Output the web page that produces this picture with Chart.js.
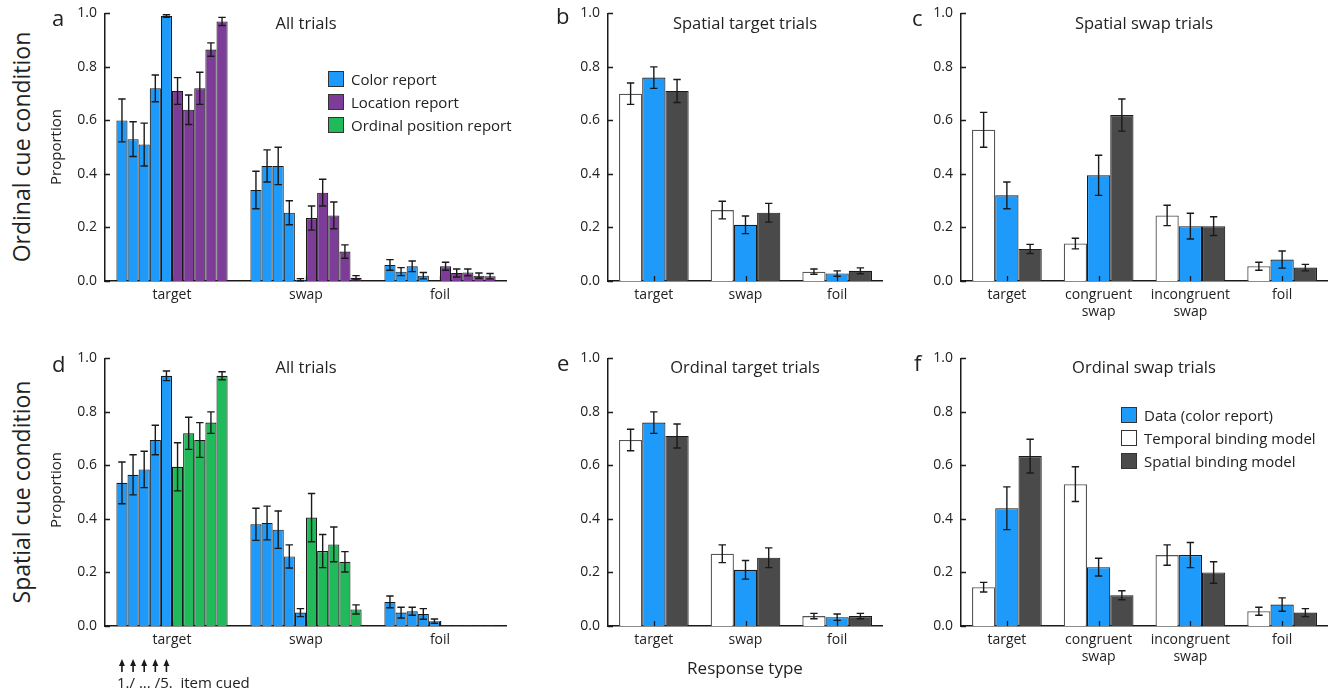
<!DOCTYPE html>
<html>
<head>
<meta charset="utf-8">
<title>Binding of features in working memory</title>
<script src="https://cdn.jsdelivr.net/npm/chart.js@4.4.1/dist/chart.umd.min.js"></script>
<style>
  body { margin: 0; background: #fff; width: 1341px; height: 696px; position: relative; overflow: hidden;
         font-family: "Open Sans", sans-serif; color: #222; }
  canvas { position: absolute; }
  .txt { position: absolute; white-space: nowrap; line-height: 1; }
  .letter { font-size: 22px; }
  .title { font-size: 16.5px; transform: translate(-50%, -50%); }
  .rowlab { font-size: 23px; transform: translate(-50%, -50%) rotate(-90deg); }
  .ylab { font-size: 15px; transform: translate(-50%, -50%) rotate(-90deg); }
  .legend { position: absolute; font-size: 15px; }
  .legend div { height: 23px; display: flex; align-items: center; }
  .legend span.sw { width: 14px; height: 14px; border: 1px solid #333; margin-right: 7px; display: inline-block; }
</style>
</head>
<body>

<canvas id="chartA" width="447" height="334" style="left:60px;top:-3px"></canvas>
<canvas id="chartB" width="320" height="334" style="left:563px;top:-3px"></canvas>
<canvas id="chartC" width="412" height="334" style="left:916px;top:-3px"></canvas>
<canvas id="chartD" width="447" height="354" style="left:60px;top:342px"></canvas>
<canvas id="chartE" width="320" height="334" style="left:563px;top:342px"></canvas>
<canvas id="chartF" width="412" height="334" style="left:916px;top:342px"></canvas>

<!-- panel letters -->
<div class="txt letter" style="left:52px;top:6px">a</div>
<div class="txt letter" style="left:556px;top:4px">b</div>
<div class="txt letter" style="left:912px;top:6px">c</div>
<div class="txt letter" style="left:52px;top:352px">d</div>
<div class="txt letter" style="left:557px;top:351px">e</div>
<div class="txt letter" style="left:914px;top:351px">f</div>

<!-- panel titles -->
<div class="txt title" style="left:306px;top:23px">All trials</div>
<div class="txt title" style="left:745px;top:23px">Spatial target trials</div>
<div class="txt title" style="left:1144px;top:23px">Spatial swap trials</div>
<div class="txt title" style="left:306px;top:367px">All trials</div>
<div class="txt title" style="left:745px;top:367px">Ordinal target trials</div>
<div class="txt title" style="left:1144px;top:367px">Ordinal swap trials</div>

<!-- row and axis labels -->
<div class="txt rowlab" style="left:21px;top:147px">Ordinal cue condition</div>
<div class="txt rowlab" style="left:21px;top:492px">Spatial cue condition</div>
<div class="txt ylab" style="left:55px;top:147px">Proportion</div>
<div class="txt ylab" style="left:55px;top:490px">Proportion</div>
<div class="txt title" style="left:745px;top:667px;font-size:17px">Response type</div>
<div class="txt" style="left:117px;top:675px;font-size:15px">1./ ... /5.&nbsp; item cued</div>

<!-- legends -->
<div class="legend" style="left:328px;top:67px">
  <div><span class="sw" style="background:#1E9BFA"></span>Color report</div>
  <div><span class="sw" style="background:#7D3C98"></span>Location report</div>
  <div><span class="sw" style="background:#21BA5B"></span>Ordinal position report</div>
</div>
<div class="legend" style="left:1121px;top:403px">
  <div><span class="sw" style="background:#1E9BFA"></span>Data (color report)</div>
  <div><span class="sw" style="background:#FFFFFF"></span>Temporal binding model</div>
  <div><span class="sw" style="background:#4A4A4A"></span>Spatial binding model</div>
</div>

<script>
// categories
const allTrialCats = ['target', 'swap', 'foil'];
const targetCats = ['target', 'swap', 'foil'];
const swapCats = ['target', ['congruent', 'swap'], ['incongruent', 'swap'], 'foil'];
const yTicks = [0, 0.2, 0.4, 0.6, 0.8, 1.0];

// panel a (ordinal cue, all trials): rows = target / swap / foil, columns = item cued 1..5
const aColor    = [[0.60, 0.53, 0.51, 0.72, 0.99], [0.34, 0.43, 0.43, 0.255, 0.005], [0.06, 0.035, 0.055, 0.02, 0]];
const aColorErr = [[0.08, 0.065, 0.08, 0.05, 0.005], [0.07, 0.06, 0.07, 0.045, 0.004], [0.02, 0.015, 0.02, 0.012, 0]];
const aLoc      = [[0.71, 0.64, 0.72, 0.865, 0.97], [0.235, 0.33, 0.245, 0.11, 0.012], [0.055, 0.03, 0.032, 0.02, 0.018]];
const aLocErr   = [[0.05, 0.055, 0.06, 0.025, 0.015], [0.045, 0.05, 0.05, 0.025, 0.008], [0.015, 0.015, 0.013, 0.01, 0.01]];

// panel d (spatial cue, all trials)
const dColor    = [[0.535, 0.565, 0.585, 0.695, 0.935], [0.38, 0.385, 0.36, 0.26, 0.05], [0.09, 0.05, 0.055, 0.045, 0.018]];
const dColorErr = [[0.078, 0.075, 0.068, 0.055, 0.018], [0.06, 0.063, 0.07, 0.043, 0.015], [0.022, 0.02, 0.015, 0.02, 0.008]];
const dOrd      = [[0.595, 0.72, 0.695, 0.76, 0.935], [0.405, 0.28, 0.305, 0.24, 0.062], [0.002, 0.002, 0.002, 0.002, 0.002]];
const dOrdErr   = [[0.09, 0.06, 0.065, 0.04, 0.015], [0.09, 0.062, 0.065, 0.038, 0.017], [0, 0, 0, 0, 0]];

// panel b (spatial target trials)
const bTemporal = [0.70, 0.265, 0.035];   const bTemporalErr = [0.04, 0.033, 0.01];
const bData     = [0.76, 0.21, 0.028];    const bDataErr     = [0.04, 0.033, 0.01];
const bSpatial  = [0.71, 0.255, 0.038];   const bSpatialErr  = [0.043, 0.035, 0.011];

// panel c (spatial swap trials)
const cTemporal = [0.565, 0.14, 0.245, 0.055]; const cTemporalErr = [0.065, 0.02, 0.038, 0.015];
const cData     = [0.32, 0.395, 0.205, 0.08];  const cDataErr     = [0.05, 0.075, 0.048, 0.032];
const cSpatial  = [0.12, 0.62, 0.205, 0.05];   const cSpatialErr  = [0.017, 0.06, 0.035, 0.012];

// panel e (ordinal target trials)
const eTemporal = [0.695, 0.27, 0.037];   const eTemporalErr = [0.04, 0.033, 0.01];
const eData     = [0.76, 0.21, 0.033];    const eDataErr     = [0.04, 0.035, 0.012];
const eSpatial  = [0.71, 0.255, 0.037];   const eSpatialErr  = [0.045, 0.037, 0.01];

// panel f (ordinal swap trials)
const fTemporal = [0.145, 0.53, 0.265, 0.055]; const fTemporalErr = [0.018, 0.065, 0.038, 0.015];
const fData     = [0.44, 0.22, 0.265, 0.08];   const fDataErr     = [0.08, 0.033, 0.047, 0.025];
const fSpatial  = [0.635, 0.115, 0.20, 0.05];  const fSpatialErr  = [0.063, 0.017, 0.04, 0.015];

const BLUE = '#1E9BFA', PURPLE = '#7D3C98', GREEN = '#21BA5B', DARK = '#4A4A4A';
const INK = '#1a1a1a';

Chart.defaults.font.family = '"Open Sans", sans-serif';
Chart.defaults.color = '#222';

// error bars + inward axis ticks
const errorBars = {
    id: 'errorBars',
    afterDatasetsDraw(chart) {
        const ctx = chart.ctx;
        const y = chart.scales.y, x = chart.scales.x;
        ctx.save();
        ctx.strokeStyle = INK;
        ctx.lineWidth = 1.4;
        chart.data.datasets.forEach((ds, i) => {
            if (!ds.errors) return;
            chart.getDatasetMeta(i).data.forEach((bar, j) => {
                const e = ds.errors[j];
                if (!e) return;
                const v = ds.data[j];
                const top = y.getPixelForValue(v + e);
                const bot = y.getPixelForValue(Math.max(v - e, 0));
                const cap = 3.7;
                ctx.beginPath();
                ctx.moveTo(bar.x, top); ctx.lineTo(bar.x, bot);
                ctx.moveTo(bar.x - cap, top); ctx.lineTo(bar.x + cap, top);
                ctx.moveTo(bar.x - cap, bot); ctx.lineTo(bar.x + cap, bot);
                ctx.stroke();
            });
        });
        // inward ticks
        ctx.lineWidth = 1.3;
        ctx.beginPath();
        yTicks.forEach(t => {
            const py = Math.round(y.getPixelForValue(t)) + 0.5;
            ctx.moveTo(chart.chartArea.left, py);
            ctx.lineTo(chart.chartArea.left + 5, py);
        });
        chart.data.labels.forEach((_, k) => {
            const px = Math.round(x.getPixelForValue(k)) + 0.5;
            ctx.moveTo(px, chart.chartArea.bottom);
            ctx.lineTo(px, chart.chartArea.bottom - 5);
        });
        ctx.stroke();
        ctx.restore();
    }
};

// arrows under the target group of panel d
const cueArrows = {
    id: 'cueArrows',
    afterDraw(chart) {
        const ctx = chart.ctx;
        const base = chart.chartArea.bottom;
        ctx.save();
        ctx.strokeStyle = INK;
        ctx.fillStyle = INK;
        ctx.lineWidth = 1.6;
        for (let i = 0; i < 5; i++) {
            const bx = chart.getDatasetMeta(i).data[0].x;
            ctx.beginPath();
            ctx.moveTo(bx, base + 46);
            ctx.lineTo(bx, base + 38);
            ctx.stroke();
            ctx.beginPath();
            ctx.moveTo(bx, base + 33);
            ctx.lineTo(bx - 3, base + 40);
            ctx.lineTo(bx + 3, base + 40);
            ctx.closePath();
            ctx.fill();
        }
        ctx.restore();
    }
};

function itemDatasets(mean, err, label, color) {
    const sets = [];
    for (let i = 0; i < 5; i++) {
        sets.push({
            label: label + ' ' + (i + 1),
            data: mean.map(row => row[i]),
            errors: err.map(row => row[i]),
            backgroundColor: color,
            borderColor: INK,
            borderWidth: 1.1
        });
    }
    return sets;
}

function modelDatasets(temporal, temporalErr, data, dataErr, spatial, spatialErr) {
    return [
        { label: 'Temporal binding model', data: temporal, errors: temporalErr,
          backgroundColor: '#FFFFFF', borderColor: '#555', borderWidth: 1.3 },
        { label: 'Data (color report)', data: data, errors: dataErr,
          backgroundColor: BLUE, borderColor: INK, borderWidth: 1.1 },
        { label: 'Spatial binding model', data: spatial, errors: spatialErr,
          backgroundColor: DARK, borderColor: INK, borderWidth: 1.1 }
    ];
}

function makeChart(id, labels, datasets, catPct, padBottom, extraPlugins) {
    const ctx = document.getElementById(id).getContext('2d');
    return new Chart(ctx, {
        type: 'bar',
        data: { labels: labels, datasets: datasets },
        plugins: [errorBars].concat(extraPlugins || []),
        options: {
            responsive: false,
            animation: false,
            devicePixelRatio: 1,
            layout: { padding: { top: 10, right: 0, bottom: padBottom, left: 0 } },
            datasets: { bar: { barPercentage: 1, categoryPercentage: catPct } },
            plugins: { legend: { display: false }, tooltip: { enabled: false } },
            scales: {
                x: {
                    grid: { display: false, drawTicks: false },
                    border: { color: INK, width: 1.5 },
                    ticks: { font: { size: 14 }, color: '#222', padding: 6, maxRotation: 0, autoSkip: false },
                    afterFit: s => { s.height = 50; }
                },
                y: {
                    min: 0, max: 1,
                    afterBuildTicks: s => { s.ticks = yTicks.map(v => ({ value: v })); },
                    grid: { display: false, drawTicks: false },
                    border: { color: INK, width: 1.5 },
                    ticks: { font: { size: 14 }, color: '#222', padding: 8, callback: v => v.toFixed(1) },
                    afterFit: s => { s.width = 45; }
                }
            }
        }
    });
}

document.addEventListener('DOMContentLoaded', function() {
    makeChart('chartA', allTrialCats,
        itemDatasets(aColor, aColorErr, 'Color report', BLUE).concat(itemDatasets(aLoc, aLocErr, 'Location report', PURPLE)),
        0.83, 0);
    makeChart('chartB', targetCats,
        modelDatasets(bTemporal, bTemporalErr, bData, bDataErr, bSpatial, bSpatialErr), 0.76, 0);
    makeChart('chartC', swapCats,
        modelDatasets(cTemporal, cTemporalErr, cData, cDataErr, cSpatial, cSpatialErr), 0.76, 0);
    makeChart('chartD', allTrialCats,
        itemDatasets(dColor, dColorErr, 'Color report', BLUE).concat(itemDatasets(dOrd, dOrdErr, 'Ordinal position report', GREEN)),
        0.83, 20, [cueArrows]);
    makeChart('chartE', targetCats,
        modelDatasets(eTemporal, eTemporalErr, eData, eDataErr, eSpatial, eSpatialErr), 0.76, 0);
    makeChart('chartF', swapCats,
        modelDatasets(fTemporal, fTemporalErr, fData, fDataErr, fSpatial, fSpatialErr), 0.76, 0);
});
</script>
</body>
</html>
